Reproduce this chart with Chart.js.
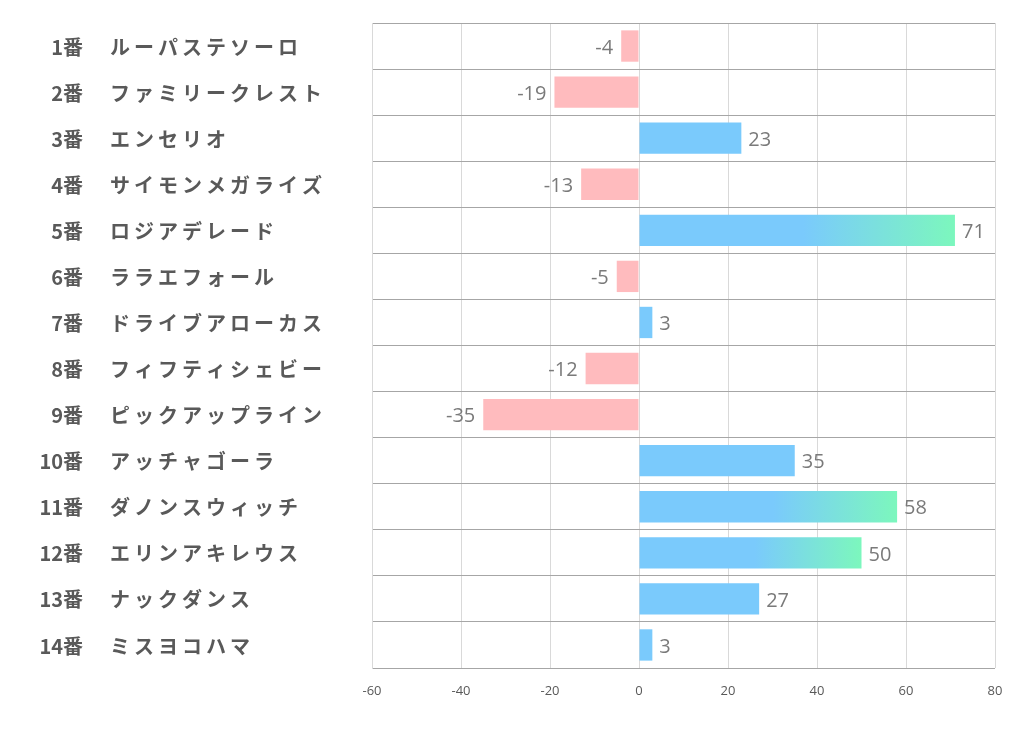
<!DOCTYPE html>
<html>
<head>
<meta charset="utf-8">
<script src="https://cdn.jsdelivr.net/npm/chart.js@4"></script>
<style>
  html, body { margin: 0; padding: 0; background: #fff; }
  #wrap { width: 1022px; height: 730px; }
</style>
</head>
<body>
<div id="wrap"><canvas id="mainChart" width="1022" height="730"></canvas></div>
<script>
// ---- data ----
const horseNumbers = ['1番', '2番', '3番', '4番', '5番', '6番', '7番', '8番', '9番', '10番', '11番', '12番', '13番', '14番'];
const horseNames = ['ルーパステソーロ', 'ファミリークレスト', 'エンセリオ', 'サイモンメガライズ', 'ロジアデレード', 'ララエフォール', 'ドライブアローカス', 'フィフティシェビー', 'ピックアップライン', 'アッチャゴーラ', 'ダノンスウィッチ', 'エリンアキレウス', 'ナックダンス', 'ミスヨコハマ'];
const scores = [-4, -19, 23, -13, 71, -5, 3, -12, -35, 35, 58, 50, 27, 3];
const xTicks = [-60, -40, -20, 0, 20, 40, 60, 80];

const BLUE = '#7acafc';
const GREEN = '#7cf7bd';
const PINK = '#ffbbbe';
const TEXT = '#595959';

function barColor(ctx) {
  const v = ctx.raw;
  if (v < 0) return PINK;
  if (v < 50) return BLUE;
  const chart = ctx.chart;
  const xs = chart.scales.x;
  if (!chart.chartArea || !xs) return BLUE;
  const x0 = xs.getPixelForValue(0);
  const x1 = xs.getPixelForValue(v);
  const g = chart.ctx.createLinearGradient(x0, 0, x1, 0);
  g.addColorStop(0, BLUE);
  g.addColorStop(0.52, BLUE);
  g.addColorStop(1, GREEN);
  return g;
}

// row labels on the left: number right aligned, name left aligned
const rowLabels = {
  id: 'rowLabels',
  afterDraw(chart) {
    const { ctx } = chart;
    const ys = chart.scales.y;
    ctx.save();
    ctx.fillStyle = TEXT;
    ctx.font = 'bold 20px "Noto Sans CJK JP", sans-serif';
    ctx.textBaseline = 'middle';
    horseNames.forEach((name, i) => {
      const y = ys.getPixelForValue(i) + 1;
      ctx.letterSpacing = '0px';
      ctx.textAlign = 'right';
      ctx.fillText(horseNumbers[i], 83, y);
      ctx.textAlign = 'left';
      ctx.letterSpacing = '4px';
      ctx.fillText(name, 110, y);
    });
    ctx.restore();
  }
};

// value labels past the bar ends
const valueLabels = {
  id: 'valueLabels',
  afterDatasetsDraw(chart) {
    const { ctx } = chart;
    const meta = chart.getDatasetMeta(0);
    ctx.save();
    ctx.fillStyle = '#7a7a7a';
    ctx.font = '20px "Open Sans", sans-serif';
    ctx.textBaseline = 'middle';
    meta.data.forEach((bar, i) => {
      const v = scores[i];
      if (v < 0) {
        ctx.textAlign = 'right';
        ctx.fillText(String(v), bar.x - 8, bar.y + 2);
      } else {
        ctx.textAlign = 'left';
        ctx.fillText(String(v), bar.x + 7, bar.y + 2);
      }
    });
    ctx.restore();
  }
};

const chart = new Chart(document.getElementById('mainChart').getContext('2d'), {
  type: 'bar',
  data: {
    labels: horseNames,
    datasets: [{
      data: scores,
      backgroundColor: barColor,
      borderWidth: 0,
      categoryPercentage: 0.68,
      barPercentage: 1.0,
    }]
  },
  options: {
    indexAxis: 'y',
    responsive: false,
    animation: false,
    layout: { padding: { top: 23, right: 27, bottom: 0, left: 0 } },
    plugins: { legend: { display: false }, tooltip: { enabled: false } },
    scales: {
      x: {
        min: -60,
        max: 80,
        afterBuildTicks: (s) => { s.ticks = xTicks.map(v => ({ value: v })); },
        afterFit: (s) => { s.height = 62; },
        grid: { color: '#d9d9d9', drawTicks: false },
        border: { display: false },
        ticks: { color: TEXT, font: { family: 'Open Sans', size: 13 }, padding: 15 },
      },
      y: {
        afterFit: (s) => { s.width = 372; },
        grid: { color: '#a6a6a6', offset: true, drawTicks: false },
        border: { display: true, color: '#d9d9d9' },
        ticks: { display: false },
      }
    }
  },
  plugins: [rowLabels, valueLabels]
});
</script>
</body>
</html>
